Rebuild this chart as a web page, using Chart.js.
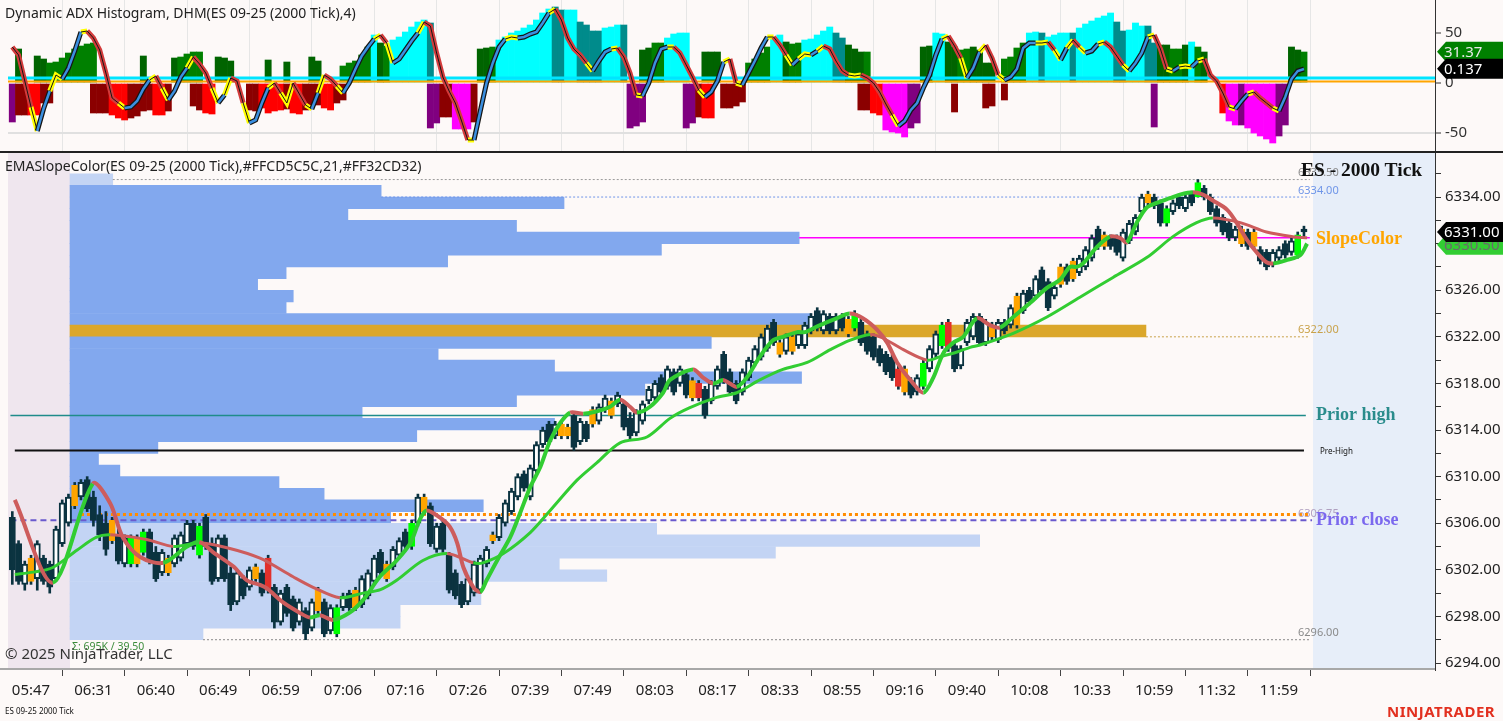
<!DOCTYPE html>
<html>
<head>
<meta charset="utf-8">
<title>ES 09-25 2000 Tick</title>
<script src="https://cdn.jsdelivr.net/npm/chart.js@4.4.1/dist/chart.umd.min.js"></script>
<style>
  html, body { margin: 0; padding: 0; background: #fdf9f8; }
  #page { position: relative; width: 1503px; height: 721px; overflow: hidden; font-family: "Noto Sans", sans-serif; color: #222; }
  .abs { position: absolute; }
  canvas { position: absolute; left: 0; z-index: 2; }
  #topChart { top: 0; }
  #mainChart { top: 153px; }
  .txt { position: absolute; z-index: 3; white-space: nowrap; }
</style>
</head>
<body>
<div id="page">
  <!-- shaded zones behind the price panel -->
  <div class="abs" style="left:8px;top:153px;width:62px;height:515px;background:#efe6ee;z-index:1"></div>
  <div class="abs" style="left:1313px;top:153px;width:122px;height:517px;background:#e7eef9;z-index:1"></div>
  <div class="abs" style="left:0;top:151px;width:1503px;height:2px;background:#222;z-index:4"></div>
  <div class="abs" style="left:0;top:668px;width:1435px;height:2px;background:#a8a8a8;z-index:4"></div>

  <canvas id="topChart" width="1503" height="152"></canvas>
  <canvas id="mainChart" width="1503" height="568"></canvas>

  <div class="txt" style="left:5px;top:3px;font-size:14px;color:#222">Dynamic ADX Histogram, DHM(ES 09-25 (2000 Tick),4)</div>
  <div class="txt" style="left:5px;top:156px;font-size:14px;color:#222">EMASlopeColor(ES 09-25 (2000 Tick),#FFCD5C5C,21,#FF32CD32)</div>
  <div class="txt" style="left:1301px;top:159px;font:bold 19.5px 'Liberation Serif',serif;color:#111">ES - 2000 Tick</div>
  <div class="txt" id="sigma" style="left:72px;top:639px;font-size:10.5px;color:#3c8c3c"></div>
  <div class="txt" style="left:5px;top:643px;font-size:15px;color:#333">© 2025 NinjaTrader, LLC</div>
  <div class="txt" style="left:5px;top:705px;font-size:8px;color:#111">ES 09-25 2000 Tick</div>
  <div class="txt" style="left:1387px;top:701px;font:bold 15px 'Noto Sans',sans-serif;color:#e2301f;letter-spacing:0.5px">NINJATRADER</div>
</div>

<script>
// x axis time labels, one every 10 bars
const timeLabels = ["05:47", "06:31", "06:40", "06:49", "06:59", "07:06", "07:16", "07:26", "07:39", "07:49",
    "08:03", "08:17", "08:33", "08:55", "09:16", "09:40", "10:08", "10:33", "10:59", "11:32", "11:59"];

// 2000 tick bars
const opens = [
    6306.5, 6304.25, 6300.75, 6301.0, 6301.25, 6303.0, 6302.5, 6301.25, 6304.25, 6306.0,
    6307.5, 6308.25, 6309.75, 6308.25, 6306.75, 6306.0, 6306.25, 6305.0, 6302.5, 6302.5,
    6304.75, 6303.5, 6305.25, 6303.5, 6301.75, 6303.0, 6302.5, 6303.0, 6304.25, 6306.0,
    6303.25, 6306.5, 6304.25, 6301.25, 6304.75, 6301.75, 6299.25, 6301.25, 6300.5, 6301.25,
    6301.75, 6303.0, 6300.5, 6297.5, 6300.5, 6299.5, 6297.5, 6298.5, 6297.0, 6300.25,
    6299.25, 6296.75, 6296.5, 6298.75, 6300.0, 6298.75, 6299.0, 6299.75, 6301.0, 6303.5,
    6301.25, 6302.25, 6303.25, 6305.25, 6304.0, 6306.0, 6308.25, 6307.5, 6303.75, 6306.0,
    6303.25, 6301.75, 6300.75, 6299.25, 6300.0, 6300.25, 6302.5, 6304.5, 6304.75, 6306.0,
    6307.0, 6308.25, 6310.25, 6308.25, 6310.5, 6312.75, 6314.5, 6313.5, 6314.5, 6313.5,
    6315.25, 6313.0, 6314.5, 6314.5, 6314.75, 6315.75, 6316.5, 6316.25, 6316.25, 6315.0,
    6313.75, 6314.75, 6316.5, 6316.75, 6318.5, 6317.75, 6319.0, 6318.0, 6318.75, 6316.75,
    6318.0, 6317.5, 6316.5, 6317.75, 6320.5, 6319.0, 6318.0, 6317.25, 6318.5, 6319.75,
    6320.25, 6321.0, 6323.25, 6321.5, 6320.75, 6322.0, 6321.25, 6321.25, 6322.5, 6324.25,
    6322.5, 6323.75, 6322.5, 6323.75, 6322.25, 6322.75, 6323.25, 6322.25, 6322.0, 6321.0,
    6320.5, 6320.25, 6319.25, 6319.25, 6318.25, 6317.25, 6317.75, 6319.25, 6320.5, 6321.25,
    6323.25, 6321.25, 6319.5, 6321.5, 6322.0, 6323.75, 6321.5, 6323.0, 6321.75, 6323.25,
    6323.0, 6323.0, 6324.25, 6326.0, 6325.5, 6327.75, 6326.75, 6325.5, 6326.5, 6328.0,
    6327.0, 6327.5, 6328.0, 6328.75, 6331.25, 6329.75, 6330.5, 6330.5, 6328.75, 6330.25,
    6331.0, 6332.75, 6333.5, 6334.0, 6333.5, 6331.75, 6332.75, 6334.0, 6333.0, 6334.25,
    6334.0, 6334.75, 6334.0, 6333.0, 6332.25, 6331.75, 6330.5, 6331.25, 6331.0, 6331.0,
    6329.5, 6329.25, 6328.25, 6328.75, 6330.0, 6329.25, 6329.0, 6331.25
];
const highs = [
    6307.0, 6304.5, 6302.75, 6303.25, 6304.5, 6303.25, 6302.75, 6305.75, 6308.0, 6308.5,
    6309.5, 6309.75, 6310.0, 6308.75, 6307.5, 6307.0, 6306.5, 6305.5, 6305.0, 6305.0,
    6305.0, 6305.5, 6305.5, 6304.0, 6303.75, 6303.25, 6305.0, 6305.25, 6306.25, 6306.25,
    6306.0, 6306.75, 6304.75, 6305.0, 6305.0, 6302.25, 6302.0, 6301.5, 6302.25, 6302.5,
    6302.0, 6303.25, 6300.75, 6300.25, 6300.75, 6299.75, 6299.5, 6298.75, 6299.5, 6300.5,
    6299.5, 6299.0, 6299.0, 6300.0, 6300.25, 6300.5, 6301.5, 6302.0, 6303.25, 6303.75,
    6302.75, 6304.0, 6304.75, 6305.5, 6306.25, 6308.5, 6308.5, 6307.75, 6306.0, 6306.25,
    6303.5, 6302.0, 6301.0, 6301.5, 6302.75, 6303.25, 6304.0, 6305.25, 6306.75, 6308.0,
    6309.0, 6310.25, 6310.5, 6311.0, 6313.0, 6314.25, 6314.75, 6314.75, 6314.75, 6314.5,
    6315.5, 6315.0, 6314.75, 6316.0, 6316.25, 6317.0, 6316.75, 6317.25, 6316.5, 6315.5,
    6315.75, 6316.5, 6317.75, 6318.25, 6318.75, 6319.5, 6319.25, 6319.5, 6319.0, 6318.5,
    6318.25, 6317.75, 6318.25, 6319.5, 6320.75, 6319.25, 6318.25, 6319.25, 6320.25, 6321.25,
    6322.25, 6323.0, 6323.5, 6321.75, 6322.25, 6322.25, 6322.5, 6323.25, 6324.0, 6324.5,
    6324.25, 6324.0, 6324.0, 6324.0, 6323.75, 6324.25, 6323.5, 6322.5, 6322.25, 6321.25,
    6320.75, 6320.5, 6319.5, 6319.5, 6318.5, 6318.75, 6320.0, 6321.25, 6322.5, 6323.25,
    6323.5, 6321.5, 6321.25, 6323.5, 6324.0, 6324.0, 6323.5, 6323.25, 6323.5, 6323.5,
    6324.75, 6325.75, 6326.0, 6326.25, 6327.25, 6328.0, 6327.0, 6326.5, 6328.25, 6328.25,
    6328.75, 6329.0, 6329.75, 6330.75, 6331.5, 6331.0, 6330.75, 6330.75, 6331.25, 6332.0,
    6332.5, 6334.25, 6334.5, 6334.25, 6333.75, 6333.25, 6333.75, 6334.25, 6334.25, 6334.5,
    6335.5, 6335.0, 6334.25, 6333.25, 6332.5, 6332.0, 6331.5, 6331.5, 6331.25, 6331.25,
    6329.75, 6329.5, 6329.5, 6329.75, 6330.25, 6330.5, 6331.0, 6331.5
];
const lows = [
    6300.75, 6300.75, 6300.25, 6300.75, 6300.25, 6300.75, 6300.0, 6301.0, 6304.0, 6305.75,
    6307.25, 6308.0, 6307.0, 6305.75, 6304.5, 6303.25, 6304.25, 6302.5, 6302.25, 6302.25,
    6302.25, 6303.25, 6302.5, 6301.0, 6301.5, 6301.5, 6302.25, 6302.75, 6304.0, 6303.75,
    6303.0, 6303.75, 6300.75, 6301.0, 6301.0, 6298.5, 6299.0, 6299.5, 6300.25, 6301.0,
    6299.75, 6300.0, 6297.0, 6297.25, 6298.0, 6296.75, 6297.25, 6296.0, 6296.75, 6298.25,
    6296.25, 6296.5, 6296.25, 6298.5, 6298.5, 6298.5, 6298.75, 6299.5, 6300.75, 6301.5,
    6301.0, 6302.0, 6303.0, 6303.75, 6303.75, 6305.75, 6306.75, 6304.0, 6303.5, 6303.5,
    6300.0, 6299.5, 6298.75, 6299.0, 6299.75, 6300.0, 6302.25, 6304.25, 6304.5, 6305.75,
    6306.75, 6308.0, 6308.75, 6308.0, 6310.25, 6312.5, 6312.75, 6313.25, 6313.25, 6313.25,
    6312.25, 6312.75, 6313.0, 6314.25, 6314.5, 6315.5, 6315.0, 6316.0, 6314.0, 6313.25,
    6313.5, 6314.5, 6316.25, 6316.5, 6317.0, 6317.5, 6317.0, 6317.75, 6316.75, 6316.5,
    6316.5, 6315.0, 6316.25, 6317.5, 6318.0, 6317.0, 6316.25, 6317.0, 6318.25, 6319.5,
    6320.0, 6320.75, 6321.25, 6320.25, 6320.5, 6320.5, 6321.0, 6321.0, 6322.25, 6322.5,
    6322.25, 6322.25, 6322.25, 6322.5, 6322.0, 6322.5, 6321.25, 6320.5, 6320.0, 6319.5,
    6318.75, 6318.25, 6317.5, 6317.0, 6316.75, 6317.0, 6317.5, 6319.0, 6320.25, 6321.0,
    6320.75, 6319.0, 6319.25, 6321.25, 6321.75, 6321.25, 6321.25, 6321.75, 6321.5, 6322.25,
    6322.75, 6322.75, 6324.0, 6324.75, 6325.25, 6325.75, 6324.25, 6325.25, 6326.25, 6326.5,
    6326.75, 6327.25, 6327.75, 6328.5, 6329.5, 6329.5, 6329.5, 6329.0, 6328.5, 6330.0,
    6330.75, 6332.5, 6333.25, 6333.0, 6331.5, 6331.5, 6332.5, 6333.0, 6332.75, 6333.25,
    6334.0, 6333.75, 6332.5, 6331.5, 6330.75, 6330.25, 6330.25, 6329.75, 6329.5, 6329.5,
    6328.25, 6327.75, 6328.0, 6328.5, 6328.75, 6329.0, 6328.75, 6330.5
];
const closes = [
    6302.0, 6301.0, 6302.5, 6303.0, 6304.25, 6301.0, 6300.5, 6305.5, 6307.75, 6308.25,
    6309.25, 6309.5, 6307.25, 6306.25, 6305.0, 6303.75, 6304.5, 6302.75, 6304.75, 6304.75,
    6302.5, 6305.25, 6302.75, 6301.25, 6303.5, 6301.75, 6304.75, 6305.0, 6306.0, 6304.0,
    6305.75, 6304.0, 6301.0, 6304.75, 6301.25, 6299.0, 6301.75, 6299.75, 6302.0, 6302.25,
    6300.0, 6300.25, 6297.5, 6300.0, 6298.25, 6297.0, 6299.25, 6296.5, 6299.25, 6298.5,
    6296.5, 6298.75, 6298.75, 6299.75, 6298.75, 6300.25, 6301.25, 6301.75, 6303.0, 6301.75,
    6302.5, 6303.75, 6304.5, 6304.0, 6306.0, 6308.25, 6307.0, 6304.25, 6305.75, 6303.75,
    6300.25, 6299.75, 6299.0, 6301.25, 6302.5, 6303.0, 6303.75, 6305.0, 6306.5, 6307.75,
    6308.75, 6310.0, 6309.0, 6310.75, 6312.75, 6314.0, 6313.0, 6314.5, 6313.5, 6314.25,
    6312.5, 6314.75, 6313.25, 6315.75, 6316.0, 6316.75, 6315.25, 6317.0, 6314.25, 6313.5,
    6315.5, 6316.25, 6317.5, 6318.0, 6317.25, 6319.25, 6317.25, 6319.25, 6317.0, 6318.25,
    6316.75, 6315.25, 6318.0, 6319.25, 6318.25, 6317.25, 6316.5, 6319.0, 6320.0, 6321.0,
    6322.0, 6322.75, 6321.5, 6320.5, 6322.0, 6320.75, 6322.25, 6323.0, 6323.75, 6322.75,
    6324.0, 6322.5, 6323.75, 6322.75, 6323.5, 6324.0, 6321.5, 6320.75, 6320.25, 6319.75,
    6319.0, 6318.5, 6317.75, 6317.25, 6317.0, 6318.5, 6319.75, 6321.0, 6322.25, 6323.0,
    6321.0, 6319.25, 6321.0, 6323.25, 6323.75, 6321.5, 6323.25, 6322.0, 6323.25, 6322.5,
    6324.5, 6325.5, 6325.75, 6325.0, 6327.0, 6326.0, 6324.5, 6326.25, 6328.0, 6326.75,
    6328.5, 6328.75, 6329.5, 6330.5, 6329.75, 6330.75, 6329.75, 6329.25, 6331.0, 6331.75,
    6332.25, 6334.0, 6334.25, 6333.25, 6331.75, 6333.0, 6333.5, 6333.25, 6334.0, 6333.5,
    6335.25, 6334.0, 6332.75, 6331.75, 6331.0, 6330.5, 6331.25, 6330.0, 6329.75, 6329.75,
    6328.5, 6328.0, 6329.25, 6329.5, 6329.0, 6330.25, 6330.75, 6331.0
];
// bars painted by the pattern marker: O orange, G green, R red
const barMarks =
    "---O------" + "O-----O--G" + "OG---O----" + "G--------O" + "-R-------O" +
    "--G--O----" + "O---G-O---" + "-------O--" + "--------OO" + "---O--O---" +
    "---------O" + "R---------" + "---O-O----" + "----OG----" + "--RO--G--G" +
    "R------O--" + "-O------O-" + "O----O----" + "--O--G----" + "G------O-O" +
    "------G-";

// EMA slope lines, sampled at bar positions
const fastX = [0.4, 6.5, 12.9, 15.7, 17.7, 20.5, 24.2, 28, 30, 32.2, 35.4, 37.6, 39.7, 40.8, 43.4, 46.1, 47.7, 49.3,
    51.4, 54, 56.2, 58.9, 61.6, 63.8, 65.3, 66.4, 68.5, 70.1, 71.3, 72.3, 73.9, 75, 76, 77.7, 79.8, 81.4, 83, 84.6,
    86.2, 87.8, 89.4, 91.5, 93.7, 95.8, 97.4, 99, 100.1, 102.2, 104.3, 105.4, 109.1, 110.7, 112.3, 113.9, 115, 116.1,
    117.7, 119.8, 121.9, 123.5, 125.8, 127, 129, 132.2, 134.2, 136.3, 138.6, 140.2, 141.8, 143.9, 146, 147.6, 149.2,
    150.8, 152.4, 154.6, 156.7, 158.3, 160.4, 163.1, 165.8, 167.9, 169.5, 170.6, 171.6, 173.8, 175.9, 177.5, 178.6,
    180.2, 181.8, 183.4, 185.5, 187.1, 189.2, 190.8, 192.4, 194.7, 196.2, 197.9, 199.5, 201, 202.1, 204.3, 206.4, 207.5];
const fastY = [6308.0, 6300.9, 6309.4, 6307.7, 6304.8, 6303.1, 6302.6, 6304.0, 6304.4, 6303.5, 6302.3, 6301.1, 6300.7,
    6300.4, 6299.2, 6298.3, 6297.9, 6298.1, 6297.7, 6298.3, 6299.4, 6301.4, 6302.8, 6304.3, 6306.3, 6307.1, 6306.5,
    6305.7, 6304.3, 6302.2, 6300.5, 6300.1, 6301.1, 6302.8, 6304.8, 6306.9, 6309.1, 6310.8, 6313.1, 6314.6, 6315.5,
    6315.4, 6315.6, 6316.0, 6316.6, 6316.0, 6315.5, 6316.0, 6317.2, 6318.3, 6319.2, 6318.5, 6318.0, 6318.3, 6318.0,
    6317.7, 6318.5, 6320.3, 6321.7, 6322.0, 6322.4, 6322.4, 6322.9, 6323.6, 6324.0, 6323.6, 6322.6, 6321.5, 6319.8,
    6318.3, 6317.2, 6318.5, 6320.6, 6321.5, 6322.0, 6323.6, 6323.0, 6322.8, 6323.7, 6324.9, 6326.2, 6326.9, 6328.0,
    6328.0, 6328.3, 6329.7, 6330.6, 6330.5, 6330.1, 6331.8, 6333.1, 6333.5, 6333.9, 6334.2, 6334.4, 6334.2, 6333.7,
    6332.9, 6331.8, 6330.3, 6329.2, 6328.4, 6328.3, 6328.6, 6329.0, 6330.0];
const slowX = [0.4, 3.3, 6.5, 10.4, 13.5, 15.7, 21.5, 25.8, 30, 34.4, 39.7, 45, 48.2, 52.5, 56.2, 59, 61.6, 65.8, 69.7,
    73.9, 75.4, 78.7, 83, 86.2, 90.5, 93.7, 97.4, 101.7, 105.4, 108.5, 112.9, 116.1, 119.8, 123.5, 127.4, 131.1, 134.2,
    137.5, 139.5, 142.8, 146.6, 148.7, 151.4, 153.5, 155.1, 160.4, 165.8, 171.1, 176.4, 181.8, 186, 189.8, 192.4,
    196.8, 201, 205.2, 207.5];
const slowY = [6301.6, 6301.8, 6302.2, 6303.7, 6304.8, 6305.0, 6304.6, 6304.0, 6304.3, 6303.9, 6303.0, 6301.4, 6300.5,
    6299.6, 6300.0, 6300.3, 6301.1, 6302.8, 6303.4, 6302.6, 6302.6, 6303.4, 6305.2, 6307.1, 6309.7, 6311.2, 6312.9,
    6313.4, 6315.0, 6315.9, 6316.8, 6317.2, 6318.3, 6319.2, 6319.8, 6320.9, 6321.7, 6322.2, 6321.9, 6320.9, 6320.0,
    6320.3, 6320.7, 6321.1, 6321.3, 6322.3, 6323.7, 6325.4, 6327.1, 6328.8, 6330.6, 6331.8, 6332.2, 6331.8, 6331.0,
    6330.6, 6330.5];

// volume profile, 1 point rows (K contracts)
const vpPrices = [6335, 6334, 6333, 6332, 6331, 6330, 6329, 6328, 6327, 6326, 6325, 6324, 6323, 6322, 6321, 6320,
    6319, 6318, 6317, 6316, 6315, 6314, 6313, 6312, 6311, 6310, 6309, 6308, 6307, 6306, 6305, 6304, 6303, 6302,
    6301, 6300, 6299, 6298, 6297, 6296];
const vpVolumes = [1.8, 13.1, 20.8, 11.7, 18.8, 30.7, 24.9, 15.9, 9.1, 7.9, 9.4, 9.1, 31.2, 45.3, 27.0, 15.5,
    20.4, 30.8, 24.2, 18.8, 12.3, 20.4, 14.6, 3.7, 1.2, 2.1, 8.8, 10.7, 17.4, 13.5, 24.7, 38.3, 29.7, 20.6,
    22.6, 17.3, 17.3, 13.9, 13.9, 5.6];
const pocPrice = 6322;
const valueAreaLow = 6306;
const valueAreaHigh = 6334;
const nakedLevels = [6335.5, 6334, 6322, 6296];

// reference levels
const priorHigh = 6315.25;
const preHigh = 6312.25;
const priorClose = 6306.25;
const settleLevel = 6306.75;
const slopeLevel = 6330.5;
const emaTag = 6330.5;

// ADX histogram panel: D darkgreen, G green, C cyan, T teal / P purple, K darkred, R red, M magenta
const posHist = [
    0, 34, 0, 0, 27, 24, 20, 21, 25, 30, 34, 37, 39, 40, 0, 0, 0, 0, 0, 0,
    0, 27, 0, 0, 0, 0, 25, 26, 29, 31, 31, 0, 0, 26, 25, 22, 0, 0, 0, 0,
    0, 23, 0, 0, 21, 0, 0, 0, 26, 22, 0, 0, 0, 17, 20, 22, 28, 36, 48, 40,
    37, 43, 46, 51, 56, 61, 63, 60, 0, 0, 0, 0, 0, 0, 0, 34, 35, 36, 43, 46,
    50, 52, 55, 58, 63, 70, 74, 76, 73, 73, 73, 61, 58, 52, 52, 55, 56, 58, 58, 0,
    0, 33, 35, 40, 40, 45, 49, 50, 50, 0, 0, 31, 31, 31, 0, 0, 0, 0, 20, 24,
    30, 36, 45, 48, 41, 39, 40, 43, 44, 48, 52, 56, 50, 45, 38, 34, 31, 31, 0, 0,
    0, 0, 0, 0, 0, 0, 36, 37, 50, 49, 41, 36, 33, 34, 36, 33, 20, 20, 0, 24,
    26, 35, 40, 50, 51, 50, 46, 48, 50, 50, 50, 55, 59, 62, 65, 67, 70, 61, 52, 53,
    60, 57, 57, 40, 38, 38, 34, 34, 38, 41, 36, 31, 0, 0, 0, 0, 0, 0, 0, 0,
    0, 0, 0, 0, 0, 36, 33, 31
];
const posCodes =
    "-D--DDGGGG" + "GGGG------" + "-D----DGGG" + "G--DDD----" + "-D--D---DD" +
    "---GGGGGCD" + "GCCCCCCT--" + "-----DDGCC" + "CCCCCCCTTC" + "CTTTTCCCT-" +
    "-DDGGCCCC-" + "-DDD----GG" + "GGCCDGGCCC" + "CCTTDDDG--" + "------DDCC" +
    "DDGGDDDD-G" + "GGGCCTCCCC" + "TCCCCCCTTC" + "CCTTDDGGDC" + "GD--------" +
    "-----DDG";
const negHist = [
    -39, -32, -32, -32, -32, -20, -20, 0, 0, 0, 0, 0, 0, -30, -30, -30, -32, -35, -37, -35,
    -33, -28, -27, -32, -32, -28, 0, 0, 0, -23, -27, -30, -31, 0, 0, 0, 0, 0, -27, -28,
    -25, -30, -28, -27, -26, -30, -31, -27, -22, -22, -25, -27, -20, -17, 0, 0, 0, 0, 0, 0,
    0, 0, 0, 0, 0, 0, 0, -45, -40, -34, -34, -46, -46, -46, -39, 0, 0, 0, 0, 0,
    0, 0, 0, 0, 0, 0, 0, 0, 0, 0, 0, 0, 0, 0, 0, 0, 0, 0, 0, -45,
    -43, -39, 0, 0, 0, 0, 0, 0, -45, -40, -34, -35, -35, 0, -25, -25, -23, -19, 0, 0,
    0, 0, 0, 0, 0, 0, 0, 0, 0, 0, 0, 0, 0, 0, 0, 0, -27, -27, -30, -32,
    -47, -49, -50, -54, -45, -40, 0, 0, 0, 0, 0, -29, 0, 0, 0, 0, -25, -23, 0, -17,
    0, 0, 0, 0, 0, 0, 0, 0, 0, 0, 0, 0, 0, 0, 0, 0, 0, 0, 0, 0,
    0, 0, 0, -44, 0, 0, 0, 0, 0, 0, 0, 0, 0, 0, -30, -38, -42, -42, -45, -50,
    -53, -56, -60, -53, -42, 0, 0, 0
];
const negCodes =
    "PKKRRKK---" + "---KKKRRRK" + "KKKRRK---K" + "KRR-----KK" + "RRRRKRRKKK" +
    "RRKK------" + "-------PPK" + "KMMMK-----" + "----------" + "---------P" +
    "PP------PP" + "KRR-KKKK--" + "----------" + "------KKRR" + "MMMMPP----" +
    "-K----KK-K" + "----------" + "----------" + "---P------" + "----RMMPMM" +
    "MMMPP---";
const adxLine = [
    36, 28, 2, -24, -48, -26, -8, 8, 4, 15, 32, 51, 52, 45, 33, 10, -15, -20, -25, -24,
    -18, -6, 3, 7, -5, -17, -8, 6, 15, 26, 19, 10, -5, -20, -12, 5, 2, -20, -40, -37,
    -20, -5, 0, -10, -20, 0, -11, -22, -26, -10, 8, 4, -3, -10, 0, 14, 27, 36, 44, 48,
    40, 20, 24, 33, 42, 50, 61, 57, 30, 6, -8, -20, -38, -57, -57, -28, 0, 20, 36, 44,
    46, 45, 46, 49, 51, 60, 70, 74, 63, 45, 34, 28, 20, 12, 22, 31, 34, 35, 26, 10,
    -12, -13, 0, 20, 34, 36, 36, 30, 18, 6, -7, -14, -9, 2, 21, 24, 0, -2, 10, 22,
    35, 46, 46, 38, 28, 18, 24, 29, 28, 32, 37, 34, 22, 12, 8, 7, 8, 5, 0, -9,
    -21, -32, -43, -38, -27, -20, -5, 8, 28, 44, 47, 37, 25, 5, 15, 31, 38, 25, 8, 3,
    6, 14, 35, 40, 40, 40, 41, 33, 23, 35, 43, 36, 30, 32, 39, 41, 36, 27, 18, 12,
    20, 30, 46, 48, 34, 14, 12, 16, 17, 16, 22, 24, 8, 2, -10, -24, -26, -18, -11, -9,
    -15, -20, -25, -28, -14, 4, 12, 14
];
const adxTicks = [-50, 0, 50];
const adxTag = 31.37;
const dmiTag = 0.137;
const cyanLevel = 5;
const orangeLevel = 1.5;

// ---- layout and styles ----
Chart.defaults.font.family = '"Noto Sans", sans-serif';
Chart.defaults.color = "#222";
const xMin = -0.69, xMax = 228;
const tickIdx = timeLabels.map((_, j) => 3 + 10 * j);
const ink = "#0b3340";
const markColors = { O: "#ffa500", G: "#00ff00", R: "#e2302b" };
const histColors = { D: "#006400", G: "#008000", C: "#00ffff", T: "#008b8b", P: "#800080", K: "#8b0000", R: "#ff0000", M: "#ff00ff", "-": "rgba(0,0,0,0)" };
const up = "#32cd32", down = "#cd5c5c";
const extEnd = 52.2; // right end of profile level extensions (volume axis)

const sizeFixed = (w, h) => (s) => {
    if (w !== null) s.width = w;
    if (h !== null) s.height = h;
    s.paddingTop = 0; s.paddingBottom = 0; s.paddingLeft = 0; s.paddingRight = 0;
};
// an axis that takes no room and draws nothing, but still spans the chart area
const silentAxis = (axis, position, min, max) => ({
    type: "linear", axis: axis, position: position, min: min, max: max, offset: false,
    ticks: { display: false }, grid: { display: false, offset: false }, border: { display: false },
    afterFit: axis === "x" ? sizeFixed(null, 0) : sizeFixed(0, null),
});

function drawTag(ctx, yc, fill, color, text) {
    ctx.beginPath();
    ctx.moveTo(1437, yc);
    ctx.lineTo(1446, yc - 10);
    ctx.lineTo(1503, yc - 10);
    ctx.lineTo(1503, yc + 10);
    ctx.lineTo(1446, yc + 10);
    ctx.closePath();
    ctx.fillStyle = fill;
    ctx.fill();
    ctx.fillStyle = color;
    ctx.font = '15px "Noto Sans", sans-serif';
    ctx.textBaseline = "middle";
    ctx.textAlign = "left";
    ctx.fillText(text, 1444, yc + 1);
}

// ---- top panel: ADX histogram ----
const slopeColor = (d, i) => {
    const s = d[i + 1] - d[i];
    const n = d[i + 2] - d[i + 1];
    if (!isNaN(n) && Math.sign(n) !== Math.sign(s) && n !== 0) return "turn";
    return s >= 0 ? "up" : "down";
};

const topTags = {
    id: "topTags",
    afterDraw(chart) {
        const { ctx, scales: { y } } = chart;
        ctx.save();
        const yc = y.getPixelForValue(adxTag);
        drawTag(ctx, yc, "#008000", "#e8e8e8", adxTag.toFixed(2));
        drawTag(ctx, yc + 17, "#000000", "#ffffff", String(dmiTag));
        ctx.restore();
    }
};

new Chart(document.getElementById("topChart"), {
    type: "bar",
    data: {
        datasets: [
            {
                data: posHist.map((v, i) => ({ x: i, y: v })),
                backgroundColor: posHist.map((_, i) => histColors[posCodes[i]]),
                grouped: false, barPercentage: 1, categoryPercentage: 1, borderWidth: 0, order: 5,
            },
            {
                data: negHist.map((v, i) => ({ x: i, y: v })),
                backgroundColor: negHist.map((_, i) => histColors[negCodes[i]]),
                grouped: false, barPercentage: 1, categoryPercentage: 1, borderWidth: 0, order: 5,
            },
            {
                type: "line",
                data: [{ x: xMin, y: cyanLevel }, { x: xMax, y: cyanLevel }],
                borderColor: "#00e5ff", borderWidth: 3, pointRadius: 0, order: 4,
            },
            {
                type: "line",
                data: [{ x: xMin, y: orangeLevel }, { x: xMax, y: orangeLevel }],
                borderColor: "#ffa500", borderWidth: 2, pointRadius: 0, order: 4,
            },
            {
                type: "line",
                data: adxLine.map((v, i) => ({ x: i, y: v })),
                pointRadius: 0, borderWidth: 5, order: 2,
                segment: {
                    borderColor: (c) => ({ turn: "#ffff00", up: "#151515", down: "#d33b3b" })[slopeColor(adxLine, c.p0DataIndex)],
                },
            },
            {
                type: "line",
                data: adxLine.map((v, i) => ({ x: i, y: v })),
                pointRadius: 0, borderWidth: 1, order: 1,
                segment: {
                    borderColor: (c) => (slopeColor(adxLine, c.p0DataIndex) === "up" ? "#3b8fe0" : "#151515"),
                    borderWidth: (c) => (slopeColor(adxLine, c.p0DataIndex) === "up" ? 2.5 : 1),
                },
            },
        ],
    },
    options: {
        responsive: false,
        animation: false,
        layout: { padding: { left: 8, right: 0, top: 0, bottom: 0 } },
        plugins: { legend: { display: false }, tooltip: { enabled: false } },
        scales: {
            x: {
                type: "linear", min: xMin, max: xMax, offset: false,
                afterBuildTicks: (s) => { s.ticks = tickIdx.map((v) => ({ value: v })); },
                ticks: { display: false },
                grid: { color: "#e6e6e6", drawTicks: false },
                border: { display: false },
                afterFit: sizeFixed(null, 0),
            },
            y: {
                position: "right", min: -69, max: 83,
                afterBuildTicks: (s) => { s.ticks = adxTicks.map((v) => ({ value: v })); },
                ticks: { font: { size: 15 }, color: "#333", padding: 4 },
                grid: {
                    color: (c) => (c.tick && c.tick.value === -50 ? "#e0e0e0" : "rgba(0,0,0,0)"),
                    lineWidth: 2, tickLength: 6, tickColor: "#333", tickWidth: 1,
                },
                border: { color: "#333" },
                afterFit: sizeFixed(68, null),
            },
        },
    },
    plugins: [topTags],
});

// ---- price panel ----
const volumeAt = (p) => vpVolumes[vpPrices.indexOf(Math.floor(p))];

const priceLabels = {
    id: "priceLabels",
    afterDraw(chart) {
        const { ctx, scales: { y } } = chart;
        ctx.save();
        // naked profile levels
        const levelInk = { 6335.5: "#8a8a8a", 6334: "#6f95e8", 6322: "#c9a24a", 6296: "#8a8a8a" };
        ctx.font = '11px "Noto Sans", sans-serif';
        ctx.textBaseline = "bottom";
        nakedLevels.forEach((p) => {
            ctx.fillStyle = levelInk[p];
            ctx.fillText(p.toFixed(2), 1298, y.getPixelForValue(p) - 1);
        });
        ctx.fillStyle = "#b0a0c0";
        ctx.fillText(settleLevel.toFixed(2), 1298, y.getPixelForValue(settleLevel) + 5);

        ctx.font = 'bold 18px "Liberation Serif", serif';
        ctx.textBaseline = "middle";
        ctx.fillStyle = "#2a8c8c";
        ctx.fillText("Prior high", 1316, y.getPixelForValue(priorHigh));
        ctx.fillStyle = "#7b68ee";
        ctx.fillText("Prior close", 1316, y.getPixelForValue(priorClose));
        ctx.fillStyle = "#ffa500";
        ctx.fillText("SlopeColor", 1316, y.getPixelForValue(slopeLevel) + 2);

        ctx.font = '8px "Noto Sans", sans-serif';
        ctx.fillStyle = "#111";
        ctx.fillText("Pre-High", 1320, y.getPixelForValue(preHigh) + 1);

        // last price tags
        drawTag(ctx, y.getPixelForValue(emaTag) + 7, "#32cd32", "#6a6a6a", emaTag.toFixed(2));
        drawTag(ctx, y.getPixelForValue(closes[closes.length - 1]), "#000000", "#ffffff", closes[closes.length - 1].toFixed(2));
        ctx.restore();
    }
};

const levelLine = (price, from, to, color, width, dash, axis) => ({
    type: "line",
    xAxisID: axis || "x",
    data: [{ x: from, y: price }, { x: to, y: price }],
    borderColor: color, borderWidth: width, borderDash: dash || [], pointRadius: 0, order: 8,
});

const bodyColor = (i) => (barMarks[i] !== "-" ? markColors[barMarks[i]] : closes[i] >= opens[i] ? "#ffffff" : ink);

new Chart(document.getElementById("mainChart"), {
    type: "bar",
    data: {
        datasets: [
            // volume profile
            {
                type: "bar",
                indexAxis: "y",
                xAxisID: "xv",
                yAxisID: "yv",
                data: vpPrices.map((p, i) => ({ y: p + 0.5, x: vpVolumes[i] })),
                backgroundColor: vpPrices.map((p) =>
                    p === pocPrice ? "#dba72b" : p >= valueAreaLow && p <= valueAreaHigh ? "#82a8ee" : "#c3d4f4"),
                grouped: false, barPercentage: 1, categoryPercentage: 1, borderWidth: 0, order: 10,
            },
            // profile level extensions
            levelLine(6335.5, volumeAt(6335.5), extEnd, "#9a9a9a", 1, [2, 2], "xv"),
            levelLine(6334, volumeAt(6334), extEnd, "#6f95e8", 1, [2, 2], "xv"),
            levelLine(pocPrice, volumeAt(pocPrice), extEnd, "#c9a24a", 1, [2, 2], "xv"),
            levelLine(6296, volumeAt(6296), extEnd, "#8a8a8a", 1, [2, 2], "xv"),
            levelLine(slopeLevel, volumeAt(slopeLevel), extEnd, "#ff00ff", 1.5, [], "xv"),
            // reference lines
            levelLine(priorHigh, -0.3, 207.3, "#1f8c8a", 1.5),
            levelLine(preHigh, 0.4, 207, "#111111", 2),
            levelLine(settleLevel, 11, 208, "#ff8c00", 3, [3, 3]),
            levelLine(priorClose, -0.3, 208.3, "#6a5acd", 2, [6, 4]),
            // wicks
            {
                type: "bar",
                data: highs.map((h, i) => ({ x: i, y: [lows[i], h] })),
                backgroundColor: ink,
                grouped: false, barPercentage: 1, categoryPercentage: 1, maxBarThickness: 2, borderWidth: 0, order: 4,
            },
            // bodies
            {
                type: "bar",
                data: opens.map((o, i) => ({ x: i, y: [o, closes[i]] })),
                backgroundColor: opens.map((_, i) => bodyColor(i)),
                borderColor: opens.map((_, i) => (barMarks[i] !== "-" ? markColors[barMarks[i]] : ink)),
                borderWidth: 2, borderSkipped: false,
                grouped: false, barPercentage: 1, categoryPercentage: 1, maxBarThickness: 7, order: 3,
            },
            // slow EMA
            {
                type: "line",
                data: slowX.map((x, i) => ({ x: x, y: slowY[i] })),
                pointRadius: 0, borderWidth: 3, tension: 0.3, order: 2,
                segment: { borderColor: (c) => (c.p1.parsed.y >= c.p0.parsed.y ? up : down) },
            },
            // fast EMA
            {
                type: "line",
                data: fastX.map((x, i) => ({ x: x, y: fastY[i] })),
                pointRadius: 0, borderWidth: 4, tension: 0.3, order: 1,
                segment: { borderColor: (c) => (c.p1.parsed.y >= c.p0.parsed.y ? up : down) },
            },
        ],
    },
    options: {
        responsive: false,
        animation: false,
        layout: { padding: { left: 8, right: 0, top: 0, bottom: 0 } },
        plugins: { legend: { display: false }, tooltip: { enabled: false } },
        scales: {
            x: {
                type: "linear", min: xMin, max: xMax, offset: false,
                afterBuildTicks: (s) => { s.ticks = tickIdx.map((v) => ({ value: v })); },
                ticks: {
                    callback: (v, i) => timeLabels[i], autoSkip: false, maxRotation: 0,
                    font: { size: 15 }, color: "#222", padding: 6,
                },
                grid: { drawOnChartArea: false, tickLength: 6, tickColor: "#444" },
                border: { display: false },
                afterFit: sizeFixed(null, 51),
            },
            y: {
                position: "right", min: 6293.4, max: 6337.78,
                ticks: {
                    stepSize: 2, includeBounds: false,
                    callback: (v) => ((v - 6294) % 4 === 0 ? v.toFixed(2) : ""),
                    font: { size: 15 }, color: "#222", padding: 4,
                },
                grid: { drawOnChartArea: false, tickLength: 6, tickColor: "#333" },
                border: { color: "#333" },
                afterFit: sizeFixed(68, null),
            },
            yv: silentAxis("y", "left", 6293.4, 6337.78),
            xv: silentAxis("x", "top", -2.61, 57.47),
        },
    },
    plugins: [priceLabels],
});

// profile summary: total volume and range
const totalK = vpVolumes.reduce((a, b) => a + b, 0);
const range = Math.max(...highs) - Math.min(...lows);
document.getElementById("sigma").textContent = "Σ: " + Math.round(totalK) + "K / " + range.toFixed(2);
</script>
</body>
</html>
